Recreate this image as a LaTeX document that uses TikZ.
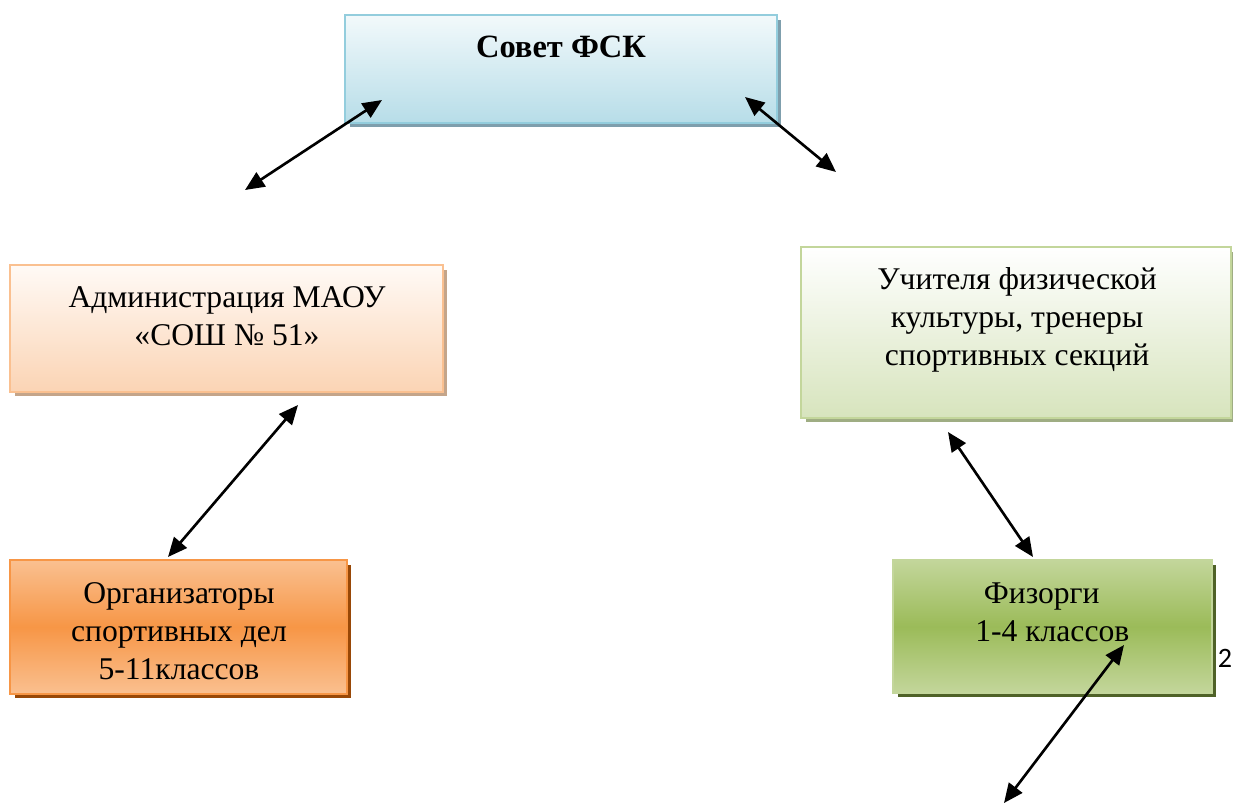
\documentclass[tikz,border=0pt]{standalone}
\usepackage{fontspec}
\setmainfont{Liberation Serif}
\newfontfamily\pagefont{Carlito}
\usetikzlibrary{arrows.meta,positioning,shadows}

\definecolor{sovetTop}{HTML}{F2F9FB}
\definecolor{sovetBot}{HTML}{B7DDE8}
\definecolor{sovetLine}{HTML}{93CDDD}
\definecolor{sovetShadow}{HTML}{7F9FAD}
\definecolor{adminTop}{HTML}{FFFAF6}
\definecolor{adminBot}{HTML}{FBD4B4}
\definecolor{adminLine}{HTML}{FAC090}
\definecolor{adminShadow}{HTML}{C4A58A}
\definecolor{uchitBot}{HTML}{D7E4BD}
\definecolor{uchitLine}{HTML}{C3D69B}
\definecolor{uchitShadow}{HTML}{9FAD83}
\definecolor{orgLight}{HTML}{FAC090}
\definecolor{orgDark}{HTML}{F79646}
\definecolor{orgShadow}{HTML}{984807}
\definecolor{fizLight}{HTML}{C3D69B}
\definecolor{fizDark}{HTML}{9BBB59}
\definecolor{fizShadow}{HTML}{4F6228}

\begin{document}
\begin{tikzpicture}[x=0.02cm, y=-0.02cm,
  box/.style={draw, line width=1.2pt, inner sep=0pt},
  sovetbox/.style={box, draw=sovetLine, top color=sovetTop, bottom color=sovetBot,
    drop shadow={shadow xshift=0.09cm, shadow yshift=-0.09cm, opacity=1, fill=sovetShadow}},
  adminbox/.style={box, draw=adminLine, top color=adminTop, bottom color=adminBot,
    drop shadow={shadow xshift=0.09cm, shadow yshift=-0.09cm, opacity=1, fill=adminShadow}},
  uchitbox/.style={box, draw=uchitLine, top color=white, bottom color=uchitBot,
    drop shadow={shadow xshift=0.09cm, shadow yshift=-0.09cm, opacity=1, fill=uchitShadow}},
  orgbox/.style={box, draw=orgDark, top color=orgLight, bottom color=orgLight, middle color=orgDark,
    drop shadow={shadow xshift=0.09cm, shadow yshift=-0.09cm, opacity=1, fill=orgShadow}},
  fizbox/.style={box, draw=fizLight, top color=fizLight, bottom color=fizLight, middle color=fizDark,
    drop shadow={shadow xshift=0.09cm, shadow yshift=-0.09cm, opacity=1, fill=fizShadow}},
  boxtext/.style={font=\fontsize{18}{21.6}\selectfont, align=center, inner sep=0pt, anchor=north},
  link/.style={{Triangle[length=11pt,width=9.5pt]}-{Triangle[length=11pt,width=9.5pt]}, line width=1.5pt},
]
\useasboundingbox (0,0) rectangle (1233,805);

% Boxes
\node[sovetbox, minimum width=8.64cm, minimum height=2.16cm] (sovet) at (561,69) {};
\node[adminbox, minimum width=8.66cm, minimum height=2.54cm] (admin) at (226.5,328.5) {};
\node[uchitbox, minimum width=8.6cm, minimum height=3.42cm] (uchit) at (1016,332.5) {};
\node[orgbox, minimum width=6.74cm, minimum height=2.68cm] (org) at (178.5,627) {};
\node[fizbox, minimum width=6.38cm, minimum height=2.66cm] (fiz) at (1052.5,626.5) {};

% Texts (top aligned, as in the boxes)
\node[boxtext, font=\fontsize{18.5}{21.6}\selectfont\bfseries] (sovetText) at (561,36) {Совет ФСК};
\node[boxtext] (adminText) at (227,286) {Администрация МАОУ\\«СОШ № 51»};
\node[boxtext] (uchitText) at (1017,267) {Учителя физической\\культуры, тренеры\\спортивных секций};
\node[boxtext] (orgText) at (179,582) {Организаторы\\спортивных дел\\5-11классов};
\node[boxtext] (fizText) at (1047,582) {Физорги\hspace*{6pt}\\\hspace*{6pt}1-4 классов};

% Page number
\node[font=\pagefont\fontsize{16}{18}\selectfont, inner sep=0pt] (pagenum) at (1225,658) {2};

% Arrow ends
\coordinate (sovetL) at (382,100);
\coordinate (adminUp) at (245,190);
\coordinate (sovetR) at (745,97);
\coordinate (uchitUp) at (836,172);
\coordinate (adminLow) at (298,405);
\coordinate (orgUp) at (168,557);
\coordinate (uchitLow) at (948,432);
\coordinate (fizUp) at (1033,557);
\coordinate (fizIn) at (1124,645);
\coordinate (fizOut) at (1004,803);

% Connectors
\draw[link] (adminUp) -- (sovetL);
\draw[link] (sovetR) -- (uchitUp);
\draw[link] (adminLow) -- (orgUp);
\draw[link] (uchitLow) -- (fizUp);
\draw[link] (fizIn) -- (fizOut);
\end{tikzpicture}
\end{document}
